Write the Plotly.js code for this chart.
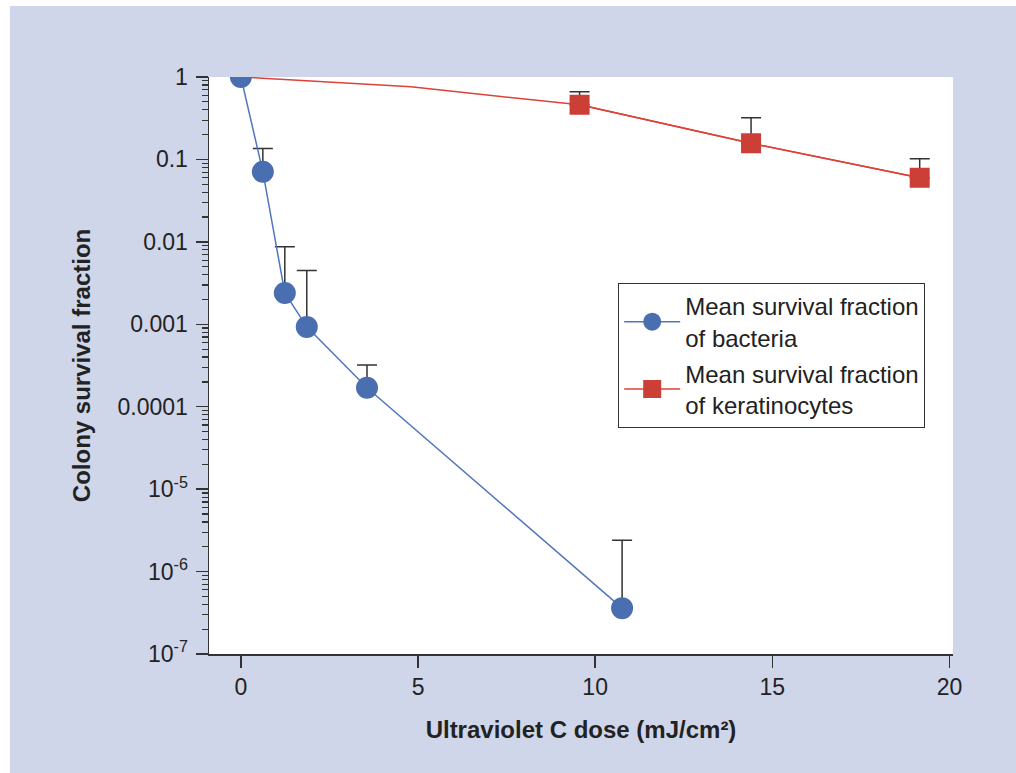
<!DOCTYPE html>
<html>
<head>
<meta charset="utf-8">
<script src="https://cdn.plot.ly/plotly-3.0.1.min.js"></script>
<style>
  html, body { margin: 0; padding: 0; background: #ffffff; }
  #chart { position: absolute; left: 10px; top: 6px; width: 1006px; height: 767px; }
</style>
</head>
<body>
<div id="chart"></div>
<script>
// Bacteria: UVC dose (mJ/cm²), mean survival fraction and upper error limit
const doseBacteria = [0, 0.62, 1.24, 1.86, 3.56, 10.76];
const survBacteria = [1, 0.071, 0.0024, 0.00093, 0.00017, 3.6e-7];
const upperBacteria = [1, 0.136, 0.0087, 0.0045, 0.00032, 2.4e-6];

// Keratinocytes: curve points and measured points with upper error limit
const doseKerCurve = [0, 4.8, 9.56, 14.4, 19.16];
const survKerCurve = [1, 0.76, 0.46, 0.157, 0.06];
const doseKer = [9.56, 14.4, 19.16];
const survKer = [0.46, 0.157, 0.06];
const upperKer = [0.66, 0.32, 0.102];

// Axis ticks
const xTicks = [0, 5, 10, 15, 20];
const yTickVals = [1, 0.1, 0.01, 0.001, 0.0001, 1e-5, 1e-6, 1e-7];
const yTickText = ['1', '0.1', '0.01', '0.001', '0.0001', '10<sup>-5</sup>', '10<sup>-6</sup>', '10<sup>-7</sup>'];

const blue = '#4a6fb0';
const red = '#cc3f36';
const dark = '#333333';
const FONT = '"Liberation Sans", Arial, Helvetica, sans-serif';

const errBac = upperBacteria.map((u, i) => u - survBacteria[i]);
const errKer = upperKer.map((u, i) => u - survKer[i]);
const zerosBac = survBacteria.map(() => 0);
const zerosKer = survKer.map(() => 0);

const traces = [
  {
    x: doseKerCurve, y: survKerCurve, type: 'scatter', mode: 'lines',
    line: { color: '#dc4238', width: 1.5 }, showlegend: false, hoverinfo: 'skip'
  },
  {
    x: doseKer, y: survKer, type: 'scatter', mode: 'lines+markers',
    name: 'Mean survival fraction<br>of keratinocytes',
    legendrank: 2, legendgroup: 'ker',
    line: { color: '#dc4238', width: 1.5 },
    marker: { symbol: 'square', size: 18, color: red, line: { color: red, width: 2 } },
    error_y: { type: 'data', symmetric: false, array: errKer, arrayminus: zerosKer,
               color: dark, thickness: 1.5, width: 10 }
  },
  {
    x: doseBacteria, y: survBacteria, type: 'scatter', mode: 'lines+markers',
    name: 'Mean survival fraction<br>of bacteria',
    legendrank: 1, legendgroup: 'bac',
    line: { color: '#5077bb', width: 1.5 },
    marker: { symbol: 'circle', size: 20, color: blue, line: { color: blue, width: 2 } },
    error_y: { type: 'data', symmetric: false, array: errBac, arrayminus: zerosBac,
               color: dark, thickness: 1.5, width: 10 }
  }
];

const layout = {
  width: 1006, height: 767,
  paper_bgcolor: '#d0d6e9',
  plot_bgcolor: '#ffffff',
  margin: { l: 199, r: 63, t: 71, b: 119 },
  font: { family: FONT, color: '#222222', size: 23 },
  showlegend: true,
  legend: {
    x: 0.55, y: 0.643, xanchor: 'left', yanchor: 'top',
    bgcolor: '#ffffff', bordercolor: dark, borderwidth: 1,
    font: { family: FONT, size: 24, color: '#222222' },
    itemwidth: 56, tracegroupgap: 2
  },
  xaxis: {
    type: 'linear', range: [-0.9, 20.1],
    tickmode: 'array', tickvals: xTicks, ticktext: xTicks.map(String),
    ticks: 'outside', ticklen: 12, tickwidth: 1.5, tickcolor: dark,
    showline: true, linecolor: dark, linewidth: 1.5,
    showgrid: false, zeroline: false,
    tickfont: { family: FONT, size: 23, color: '#222222' },
    title: { text: 'Ultraviolet C dose (mJ/cm²)', standoff: 22,
             font: { family: FONT, size: 24, color: '#222222', weight: 'bold' } }
  },
  yaxis: {
    type: 'log', range: [-7, 0],
    tickmode: 'array', tickvals: yTickVals, ticktext: yTickText,
    ticks: 'outside', ticklen: 12, tickwidth: 1.5, tickcolor: dark,
    minor: { dtick: 'D1', ticks: 'outside', ticklen: 6, tickwidth: 1.2, tickcolor: dark, showgrid: false },
    showline: true, linecolor: dark, linewidth: 1.5,
    showgrid: false, zeroline: false,
    ticklabelstandoff: 3,
    tickfont: { family: FONT, size: 23, color: '#222222' },
    title: { text: 'Colony survival fraction', standoff: 20,
             font: { family: FONT, size: 24, color: '#222222', weight: 'bold' } }
  }
};

Plotly.newPlot('chart', traces, layout, { displayModeBar: false, staticPlot: true });
</script>
</body>
</html>
